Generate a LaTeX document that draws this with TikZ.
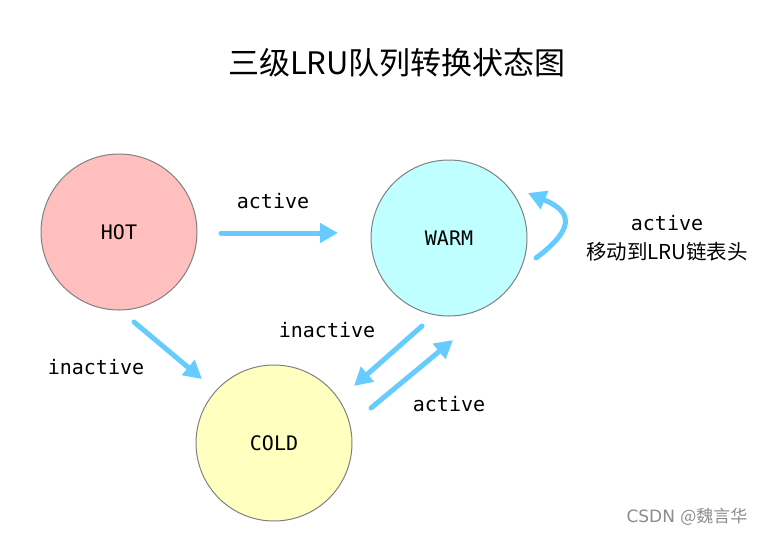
\documentclass[tikz,border=0pt]{standalone}
\usepackage{fontspec}
\setmainfont{DejaVu Sans}
\newfontfamily\cjk{Noto Sans CJK SC}
\newfontfamily\monof{DejaVu Sans Mono}
\usetikzlibrary{arrows.meta}
\definecolor{arrowblue}{HTML}{66CCFF}
\definecolor{hotfill}{HTML}{FFBFBF}
\definecolor{warmfill}{HTML}{BFFFFF}
\definecolor{coldfill}{HTML}{FFFFBF}
\definecolor{ringgray}{HTML}{808080}
\definecolor{wmgray}{HTML}{8C8C8C}
\tikzset{
  state/.style={circle, draw=ringgray, line width=1pt, minimum size=156pt, inner sep=0pt, font=\monof\fontsize{20}{24}\selectfont},
  flow/.style={draw=arrowblue, line width=5pt, line cap=round, -{Triangle[length=18pt,width=19pt]}},
  lbl/.style={font=\monof\fontsize{20}{24}\selectfont, inner sep=0pt},
}
\begin{document}
\begin{tikzpicture}[x=1pt,y=-1pt]
\useasboundingbox (0,0) rectangle (768,536);
\fill[white] (0,0) rectangle (768,536);
\node[font=\cjk\fontsize{31}{36}\selectfont] (title) at (397,63) {三级LRU队列转换状态图};
\node[state, fill=hotfill] (hot) at (119,232) {HOT};
\node[state, fill=warmfill] (warm) at (449,238) {WARM};
\node[state, fill=coldfill] (cold) at (274,443) {COLD};

\coordinate (a1s) at (221,233);
\coordinate (a1e) at (338,233);
\draw[flow] (a1s) -- (a1e);
\node[lbl] (l1) at (273,201) {active};

\coordinate (a2s) at (134,322);
\coordinate (a2e) at (202,379);
\draw[flow] (a2s) -- (a2e);
\node[lbl] (l2) at (96,367) {inactive};

\coordinate (a3s) at (422,326);
\coordinate (a3e) at (354,386);
\draw[flow] (a3s) -- (a3e);
\node[lbl] (l3) at (327,330) {inactive};

\coordinate (a4s) at (371,408);
\coordinate (a4e) at (453,340);
\draw[flow] (a4s) -- (a4e);
\node[lbl] (l4) at (449,404) {active};

\coordinate (a5s) at (536,258);
\coordinate (a5e) at (528,193);
\draw[flow] (a5s) .. controls (580,225) and (568,210) .. (a5e);
\node[lbl] (l5) at (667,223) {active};
\node[font=\cjk\fontsize{20.5}{24}\selectfont, inner sep=0pt] (l6) at (667,252) {移动到LRU链表头};

\node[font=\fontsize{17}{20}\selectfont, text=wmgray, inner sep=0pt] (wm) at (687,517) {CSDN {\cjk @魏言华}};
\end{tikzpicture}
\end{document}
